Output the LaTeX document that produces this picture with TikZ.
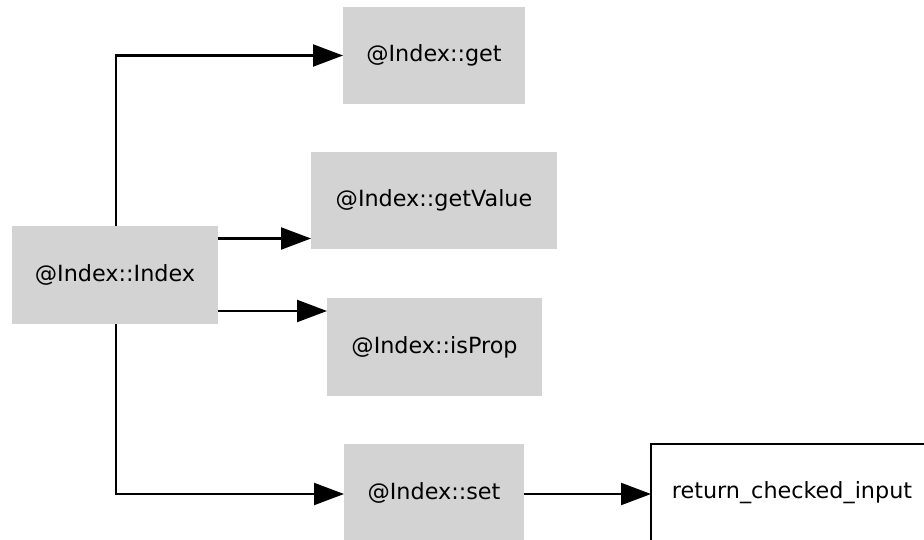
\documentclass[tikz,border=0pt]{standalone}
\usepackage{fontspec}
\setmainfont{DejaVu Sans}
\usetikzlibrary{arrows.meta}
\definecolor{nodegray}{HTML}{D3D3D3}
\begin{document}
\begin{tikzpicture}[x=1pt,y=-1pt,
  base/.style={inner sep=0pt, outer sep=0pt, font=\fontsize{22.3}{26}\selectfont},
  graybox/.style={base, fill=nodegray, draw=none},
  whitebox/.style={base, fill=white, draw=black, line width=2.2pt},
  edge/.style={draw=black, line width=2.2pt, -{Triangle[length=30pt,width=22pt]}}]
\useasboundingbox (0,0) rectangle (924,540);
\node[graybox, minimum width=206pt, minimum height=98pt] (idx) at (115,275) {@Index::Index};
\node[graybox, minimum width=182pt, minimum height=97pt] (get) at (434,55.5) {@Index::get};
\node[graybox, minimum width=246pt, minimum height=97pt] (gv) at (434,200.5) {@Index::getValue};
\node[graybox, minimum width=215pt, minimum height=98pt] (ip) at (434.5,347) {@Index::isProp};
\node[graybox, minimum width=180pt, minimum height=98pt] (set) at (434,493) {@Index::set};
\node[whitebox, minimum width=282pt, minimum height=98pt] (ret) at (792,493) {return\_checked\_input};
\draw[edge] ([xshift=1pt]idx.north) |- (get.west);
\draw[edge] ([yshift=36.5pt]idx.east) -- ([yshift=36.5pt]idx.east -| gv.west);
\draw[edge] ([yshift=-36pt]idx.east) -- ([yshift=-36pt]idx.east -| ip.west);
\draw[edge] ([xshift=1pt]idx.south) |- ([yshift=-1pt]set.west);
\draw[edge] ([yshift=-1pt]set.east) -- ([yshift=-1pt]ret.west);
\end{tikzpicture}
\end{document}
